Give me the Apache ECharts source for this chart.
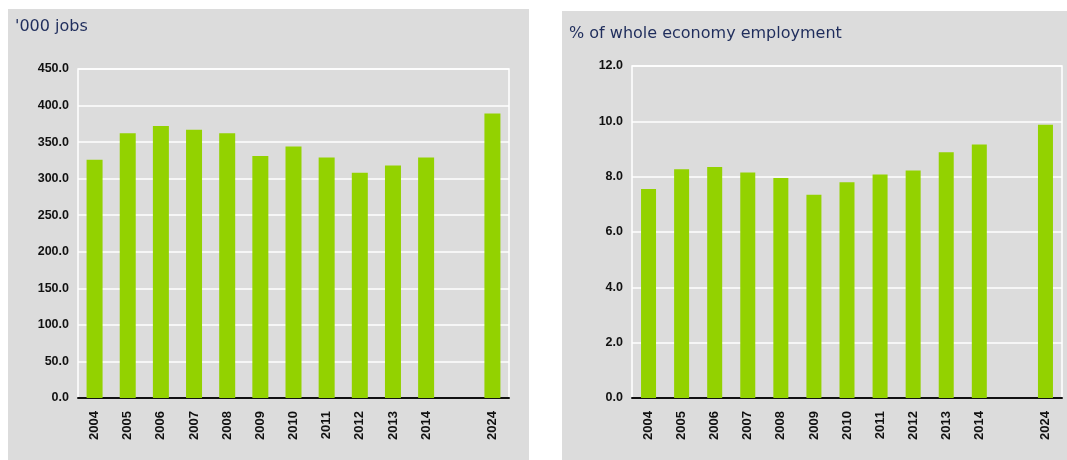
<!DOCTYPE html>
<html>
<head>
<meta charset="utf-8">
<script src="https://cdn.jsdelivr.net/npm/echarts@6/dist/echarts.min.js"></script>
<style>
  body { margin: 0; background: #fff; width: 1067px; height: 460px; position: relative; overflow: hidden; }
  .panel { position: absolute; background: #dcdcdc; }
  #jobs-chart { left: 8px; top: 9px; width: 521px; height: 451px; }
  #share-chart { left: 562px; top: 11px; width: 505px; height: 449px; }
</style>
</head>
<body>
<div class="panel" id="jobs-chart"></div>
<div class="panel" id="share-chart"></div>

<script>
  // years, with an empty slot between 2014 and 2024
  const years = ['2004', '2005', '2006', '2007', '2008', '2009', '2010', '2011', '2012', '2013', '2014', '', '2024']
  // '000 jobs
  const jobs = [326, 362, 372, 367, 362, 331, 344, 329, 308, 318, 329, '-', 389]
  // % of whole economy employment
  const share = [7.55, 8.27, 8.35, 8.15, 7.95, 7.35, 7.8, 8.08, 8.22, 8.88, 9.16, '-', 9.88]

  const green = '#93d200'
  const navy = '#1f2d5c'

  function makeOption (title, titleTop, values, yMax, yInterval, grid, barWidth) {
    return {
      animation: false,
      backgroundColor: 'transparent',
      title: {
        text: title,
        left: 2,
        top: titleTop,
        textStyle: {
          color: navy,
          fontFamily: 'DejaVu Sans',
          fontSize: 16,
          fontWeight: 'normal'
        }
      },
      grid: Object.assign({
        show: true,
        borderColor: '#ffffff',
        borderWidth: 1.5,
        backgroundColor: 'transparent',
        containLabel: false
      }, grid),
      xAxis: {
        type: 'category',
        data: years,
        axisTick: { show: false },
        axisLine: { lineStyle: { color: '#111', width: 2 } },
        axisLabel: {
          rotate: 90,
          interval: 0,
          margin: 13,
          color: '#111',
          fontFamily: 'Liberation Sans',
          fontWeight: 'bold',
          fontSize: 13
        }
      },
      yAxis: {
        type: 'value',
        min: 0,
        max: yMax,
        interval: yInterval,
        axisLine: { show: false },
        axisTick: { show: false },
        splitLine: { lineStyle: { color: '#ffffff', width: 1.5 } },
        axisLabel: {
          margin: 9,
          color: '#111',
          fontFamily: 'Liberation Sans',
          fontWeight: 'bold',
          fontSize: 12.5,
          formatter: function (v) { return v.toFixed(1) }
        }
      },
      series: [{
        type: 'bar',
        data: values,
        barWidth: barWidth,
        itemStyle: { color: green }
      }]
    }
  }

  let jobsChart = echarts.init(document.getElementById('jobs-chart'))
  jobsChart.setOption(makeOption("'000 jobs", 5, jobs, 450, 50,
    { left: 70, right: 20, top: 60, bottom: 62 }, 16))

  let shareChart = echarts.init(document.getElementById('share-chart'))
  shareChart.setOption(makeOption('% of whole economy employment', 10, share, 12, 2,
    { left: 70, right: 5, top: 55, bottom: 62 }, 15))
</script>
</body>
</html>
